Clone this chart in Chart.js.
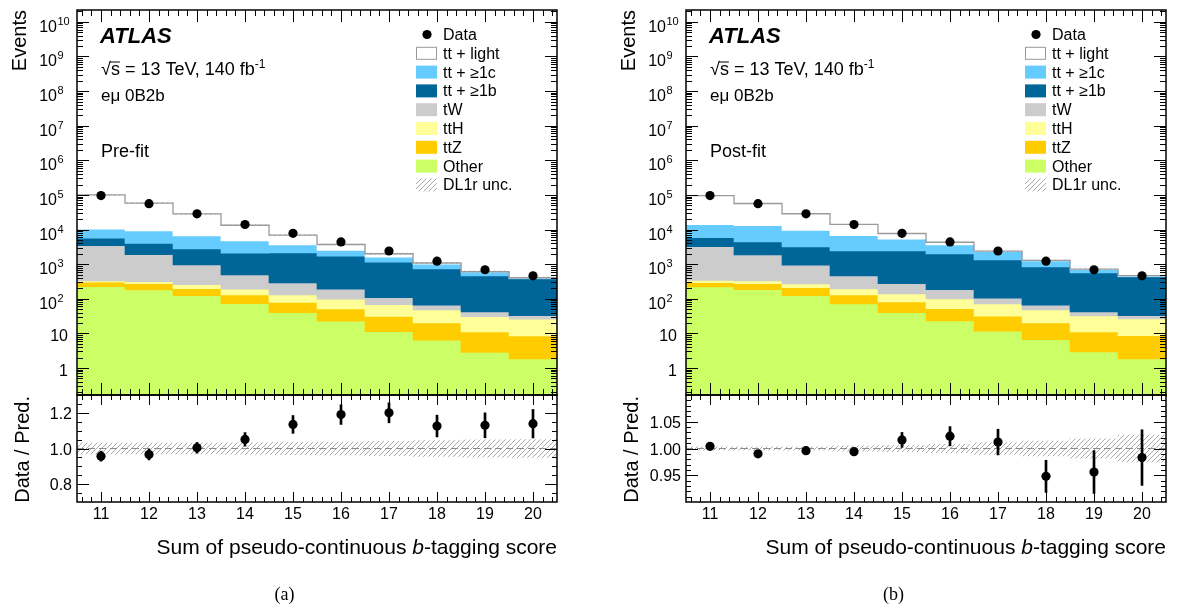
<!DOCTYPE html>
<html>
<head>
<meta charset="utf-8">
<script src="https://cdn.jsdelivr.net/npm/chart.js@4.4.0/dist/chart.umd.min.js"></script>
<style>
  body { margin: 0; background: #fff; }
  #wrap { position: relative; width: 1178px; height: 613px; overflow: hidden; background: #fff; }
  canvas { position: absolute; }
</style>
</head>
<body>
<div id="wrap">
  <canvas id="topA" width="589" height="400" style="left:0;top:0"></canvas>
  <canvas id="topB" width="589" height="400" style="left:609px;top:0"></canvas>
  <canvas id="botA" width="589" height="223" style="left:0;top:390px"></canvas>
  <canvas id="botB" width="589" height="223" style="left:609px;top:390px"></canvas>
</div>
<script>
// bins of the summed pseudo-continuous b-tagging score
const X_TICKS = [11, 12, 13, 14, 15, 16, 17, 18, 19, 20];
const BIN_EDGES = [10.5, 11.5, 12.5, 13.5, 14.5, 15.5, 16.5, 17.5, 18.5, 19.5, 20.5];
const LOG_TICKS = [1, 10, 1e2, 1e3, 1e4, 1e5, 1e6, 1e7, 1e8, 1e9, 1e10];
const RATIO_TICKS_PRE = [0.8, 1.0, 1.2];
const RATIO_TICKS_POST = [0.95, 1.00, 1.05];

const Y_MIN = 0.166;
const Y_MAX = 2.2e10;

const dataEvents = [96000, 56000, 28500, 14000, 7800, 4400, 2400, 1220, 690, 460];

// pre-fit yields per process
const preLight = [89800, 48900, 21900, 8600, 3300, 1200, 420, 80, 15, 9];
const preC = [4600, 5100, 3750, 2640, 1500, 800, 430, 275, 135, 23];
const preB = [2200, 2120, 1800, 1570, 1814, 1512, 1042, 660, 418, 340];
const preTW = [3074, 1569, 694, 302, 157, 90, 40, 17.5, 11, 6.9];
const preTTH = [26, 36, 61, 59, 50, 47, 37, 27.5, 19.5, 17.2];
const preTTZ = [76, 95, 72, 57, 39, 28.6, 19.8, 13.6, 8.2, 6.6];
const preOther = [224, 180, 123, 72, 40, 22.4, 11.2, 6.4, 2.84, 1.82];

// post-fit yields per process
const postLight = [81800, 43700, 19100, 7500, 2430, 700, 50, 40, 25, 15];
const postC = [7950, 8530, 6350, 4200, 2850, 1640, 1000, 420, 137, 25];
const postB = [2650, 2520, 2220, 1945, 2125, 1777, 1215, 765, 518, 395];
const postTW = [2860, 1524, 662, 263, 137, 83, 34, 17, 9.8, 6.5];
const postTTH = [47, 51, 59, 63, 57, 48, 39, 28, 20.7, 17.4];
const postTTZ = [74, 92, 86, 58, 41, 29, 20, 13.4, 8.1, 6.8];
const postOther = [219, 183, 123, 71, 40, 22.8, 11.5, 6.6, 2.9, 1.82];

// data / prediction
const preRatio = [0.957, 0.966, 1.004, 1.051, 1.135, 1.19, 1.20, 1.126, 1.13, 1.139];
const preRatioErr = [0.028, 0.03, 0.03, 0.038, 0.05, 0.055, 0.056, 0.061, 0.07, 0.08];
const preUnc = [0.03, 0.03, 0.03, 0.032, 0.034, 0.036, 0.04, 0.045, 0.048, 0.05];

const postRatio = [1.004, 0.990, 0.996, 0.994, 1.016, 1.023, 1.012, 0.948, 0.956, 0.983];
const postRatioErr = [0.002, 0.003, 0.003, 0.006, 0.014, 0.018, 0.024, 0.03, 0.04, 0.052];
const postUnc = [0.003, 0.003, 0.003, 0.005, 0.006, 0.008, 0.011, 0.014, 0.018, 0.025];

// stack, bottom to top
const STACK_LABELS = ['Other', 'ttZ', 'ttH', 'tW', 'tt + \u22651b', 'tt + \u22651c', 'tt + light'];
const STACK_COLORS = ['#ccff66', '#ffcc00', '#ffff99', '#cccccc', '#006699', '#66ccff', '#ffffff'];

const FONT = "'Liberation Sans', Arial, Helvetica, sans-serif";
const SERIF = "'Liberation Serif', 'Times New Roman', serif";

function makeHatch() {
    const c = document.createElement('canvas');
    c.width = c.height = 5;
    const g = c.getContext('2d');
    g.strokeStyle = '#a8a8a8';
    g.lineWidth = 1;
    g.beginPath();
    g.moveTo(0, 5); g.lineTo(5, 0);
    g.moveTo(-1, 1); g.lineTo(1, -1);
    g.moveTo(4, 6); g.lineTo(6, 4);
    g.stroke();
    return g.createPattern(c, 'repeat');
}
const HATCH = makeHatch();

const crisp = v => Math.round(v) + 0.5;

// ATLAS-style frame: inward ticks on all sides, labels, texts, legend
const atlasFrame = {
    id: 'atlasFrame',
    afterDraw(chart, args, o) {
        const { ctx, chartArea: a } = chart;
        const xs = chart.scales.x, ys = chart.scales.y;
        ctx.save();
        ctx.strokeStyle = '#000';
        ctx.lineWidth = 1;
        ctx.beginPath();
        for (let k = 53; k <= 102; k++) {
            const px = crisp(xs.getPixelForValue(k / 5));
            const len = k % 5 === 0 ? o.xMaj : o.xMin;
            ctx.moveTo(px, a.bottom); ctx.lineTo(px, a.bottom - len);
            ctx.moveTo(px, a.top); ctx.lineTo(px, a.top + len);
        }
        const yTick = (v, len) => {
            const py = crisp(ys.getPixelForValue(v));
            if (py < a.top || py > a.bottom) return;
            ctx.moveTo(a.left, py); ctx.lineTo(a.left + len, py);
            ctx.moveTo(a.right, py); ctx.lineTo(a.right - len, py);
        };
        o.yMajor.forEach(v => yTick(v, o.yMaj));
        o.yMinor.forEach(v => yTick(v, o.yMin));
        ctx.stroke();

        ctx.lineWidth = 1.5;
        ctx.strokeRect(a.left, a.top, a.right - a.left, a.bottom - a.top);

        ctx.fillStyle = '#000';
        // y tick labels
        o.yMajor.forEach(v => {
            const py = ys.getPixelForValue(v);
            const lab = o.yLabel(v);
            ctx.textAlign = 'right';
            ctx.font = '16px ' + FONT;
            if (lab.sup) {
                ctx.fillText(lab.text, o.supX, py + 10);
                ctx.textAlign = 'left';
                ctx.font = '11px ' + FONT;
                ctx.fillText(lab.sup, o.supX + 0.5, py + 3);
            } else {
                ctx.fillText(lab.text, o.labX, py + lab.dy);
            }
        });
        // x tick labels
        if (o.xLabels) {
            ctx.font = '16px ' + FONT;
            ctx.textAlign = 'center';
            X_TICKS.forEach(v => ctx.fillText(String(v), xs.getPixelForValue(v), o.xLabelY));
        }
        // free texts
        (o.texts || []).forEach(t => {
            ctx.save();
            ctx.font = t.font;
            ctx.textAlign = t.align || 'left';
            ctx.translate(t.x, t.y);
            if (t.rot) ctx.rotate(t.rot);
            if (t.parts) {
                let w = 0;
                t.parts.forEach(p => { ctx.font = p.font; w += ctx.measureText(p.s).width; });
                let cx = t.align === 'right' ? -w : 0;
                ctx.textAlign = 'left';
                t.parts.forEach(p => {
                    ctx.font = p.font;
                    ctx.fillText(p.s, cx, p.dy || 0);
                    if (p.over) {
                        ctx.lineWidth = 1;
                        ctx.beginPath();
                        ctx.moveTo(cx - 1, p.over); ctx.lineTo(cx + ctx.measureText(p.s).width, p.over);
                        ctx.stroke();
                    }
                    cx += ctx.measureText(p.s).width;
                });
            } else {
                ctx.fillText(t.s, 0, 0);
            }
            ctx.restore();
        });
        // legend
        if (o.legend) {
            const L = o.legend;
            L.items.forEach((it, i) => {
                const yc = L.y0 + i * L.dy;
                if (it.kind === 'marker') {
                    ctx.beginPath();
                    ctx.arc(L.x + 11, yc, 4.6, 0, Math.PI * 2);
                    ctx.fillStyle = '#000';
                    ctx.fill();
                } else if (it.kind === 'hatch') {
                    ctx.fillStyle = HATCH;
                    ctx.fillRect(L.x, yc - 6.5, 21, 13);
                } else {
                    ctx.fillStyle = it.color;
                    ctx.fillRect(L.x, yc - 6.5, 21, 13);
                    if (it.kind === 'outline') {
                        ctx.strokeStyle = '#999';
                        ctx.lineWidth = 1;
                        ctx.strokeRect(L.x + 0.5, yc - 6, 20, 12);
                    }
                }
                ctx.fillStyle = '#000';
                ctx.font = '16px ' + FONT;
                ctx.textAlign = 'left';
                ctx.fillText(it.label, L.x + 27, yc + 5.5);
            });
        }
        ctx.restore();
    }
};

function logMinors() {
    const out = [];
    for (let n = -1; n <= 10; n++) {
        for (let k = 2; k <= 9; k++) {
            const v = k * Math.pow(10, n);
            if (v > Y_MIN && v < Y_MAX) out.push(v);
        }
    }
    return out;
}

function stepMinors(lo, hi, step) {
    const out = [];
    const n = Math.round((hi - lo) / step);
    for (let i = 0; i <= n; i++) out.push(lo + i * step);
    return out;
}

const xScale = {
    type: 'linear', display: false, min: 10.5, max: 20.5, offset: false,
    afterBuildTicks: s => { s.ticks = X_TICKS.map(v => ({ value: v })); }
};

function upperChart(id, parts, unc, tag) {
    let acc = X_TICKS.map(() => 0);
    const bars = parts.map((p, k) => {
        const lo = acc.map(v => Math.max(v, Y_MIN));
        acc = acc.map((v, i) => v + p[i]);
        return {
            type: 'bar',
            label: STACK_LABELS[k],
            data: X_TICKS.map((x, i) => ({ x, y: [lo[i], acc[i]] })),
            backgroundColor: STACK_COLORS[k],
            borderWidth: 0,
            order: 20 - k
        };
    });
    const total = acc;
    const datasets = [
        {
            type: 'line', label: 'Data',
            data: X_TICKS.map((x, i) => ({ x, y: dataEvents[i] })),
            showLine: false, pointRadius: 4.6, pointBackgroundColor: '#000',
            pointBorderWidth: 0, borderColor: '#000', order: 0
        },
        {
            type: 'line', label: 'total',
            data: BIN_EDGES.map((x, i) => ({ x, y: total[Math.min(i, total.length - 1)] })),
            stepped: true, borderColor: '#9a9a9a', borderWidth: 1.3, pointRadius: 0, order: 1
        },
        {
            type: 'bar', label: 'DL1r unc.',
            data: X_TICKS.map((x, i) => ({ x, y: [total[i] * (1 - unc[i]), total[i] * (1 + unc[i])] })),
            backgroundColor: HATCH, borderWidth: 0, order: 2
        },
        ...bars
    ];
    return new Chart(document.getElementById(id), {
        type: 'bar',
        data: { datasets },
        options: {
            responsive: false, animation: false, devicePixelRatio: 1,
            layout: { padding: { left: 77, right: 32, top: 10, bottom: 5 } },
            datasets: { bar: { grouped: false, barPercentage: 1, categoryPercentage: 1 } },
            scales: {
                x: xScale,
                y: { type: 'logarithmic', display: false, min: Y_MIN, max: Y_MAX }
            },
            plugins: {
                legend: { display: false },
                tooltip: { enabled: false },
                atlasFrame: {
                    xMaj: 12, xMin: 6, yMaj: 12, yMin: 6,
                    yMajor: LOG_TICKS, yMinor: logMinors(),
                    supX: 57, labX: 68,
                    yLabel: v => {
                        const n = Math.round(Math.log10(v));
                        return n >= 2 ? { text: '10', sup: String(n) } : { text: String(v), dy: 8 };
                    },
                    texts: [
                        { s: 'ATLAS', x: 100, y: 43, font: 'italic bold 22px ' + FONT },
                        { x: 101, y: 75, parts: [
                            { s: '\u221A', font: '18px ' + FONT },
                            { s: 's', font: '18px ' + FONT, over: -13 },
                            { s: ' = 13 TeV, 140 fb', font: '18px ' + FONT },
                            { s: '-1', font: '12px ' + FONT, dy: -7 }
                        ] },
                        { s: 'e\u03BC 0B2b', x: 101, y: 100.5, font: '17px ' + FONT },
                        { s: tag, x: 101, y: 157, font: '18px ' + FONT },
                        { s: 'Events', x: 26, y: 10, rot: -Math.PI / 2, align: 'right', font: '20px ' + FONT }
                    ],
                    legend: {
                        x: 416, y0: 34.5, dy: 18.8,
                        items: [
                            { label: 'Data', kind: 'marker' },
                            { label: STACK_LABELS[6], kind: 'outline', color: STACK_COLORS[6] },
                            { label: STACK_LABELS[5], color: STACK_COLORS[5] },
                            { label: STACK_LABELS[4], color: STACK_COLORS[4] },
                            { label: STACK_LABELS[3], color: STACK_COLORS[3] },
                            { label: STACK_LABELS[2], color: STACK_COLORS[2] },
                            { label: STACK_LABELS[1], color: STACK_COLORS[1] },
                            { label: STACK_LABELS[0], color: STACK_COLORS[0] },
                            { label: 'DL1r unc.', kind: 'hatch' }
                        ]
                    }
                }
            }
        },
        plugins: [atlasFrame]
    });
}

function lowerChart(id, ratio, err, unc, yMin, yMax, ticks, minorStep, digits, caption) {
    const datasets = [
        {
            type: 'line', label: 'Data / Pred.',
            data: X_TICKS.map((x, i) => ({ x, y: ratio[i] })),
            showLine: false, pointRadius: 4.6, pointBackgroundColor: '#000',
            pointBorderWidth: 0, borderColor: '#000', order: 0
        },
        {
            type: 'bar', label: 'stat',
            data: X_TICKS.map((x, i) => ({ x, y: [ratio[i] - err[i], ratio[i] + err[i]] })),
            backgroundColor: '#000', borderWidth: 0, barThickness: 2, order: 1
        },
        {
            type: 'line', label: 'unity',
            data: [{ x: BIN_EDGES[0], y: 1 }, { x: BIN_EDGES[BIN_EDGES.length - 1], y: 1 }],
            borderColor: '#8c8c8c', borderWidth: 1.2, borderDash: [7, 4], pointRadius: 0, order: 2
        },
        {
            type: 'bar', label: 'DL1r unc.',
            data: X_TICKS.map((x, i) => ({ x, y: [1 - unc[i], 1 + unc[i]] })),
            backgroundColor: HATCH, borderWidth: 0, order: 3
        }
    ];
    return new Chart(document.getElementById(id), {
        type: 'bar',
        data: { datasets },
        options: {
            responsive: false, animation: false, devicePixelRatio: 1,
            layout: { padding: { left: 77, right: 32, top: 5, bottom: 111 } },
            datasets: { bar: { grouped: false, barPercentage: 1, categoryPercentage: 1 } },
            scales: {
                x: xScale,
                y: { type: 'linear', display: false, min: yMin, max: yMax }
            },
            plugins: {
                legend: { display: false },
                tooltip: { enabled: false },
                atlasFrame: {
                    xMaj: 10, xMin: 5, yMaj: 12, yMin: 5,
                    yMajor: ticks, yMinor: stepMinors(yMin, yMax, minorStep),
                    labX: 72,
                    yLabel: v => ({ text: v.toFixed(digits), dy: 6 }),
                    xLabels: true, xLabelY: 129,
                    texts: [
                        { x: 557, y: 164, align: 'right', parts: [
                            { s: 'Sum of pseudo-continuous ', font: '21px ' + FONT },
                            { s: 'b', font: 'italic 21px ' + FONT },
                            { s: '-tagging score', font: '21px ' + FONT }
                        ] },
                        { s: 'Data / Pred.', x: 29, y: 6, rot: -Math.PI / 2, align: 'right', font: '20px ' + FONT },
                        { s: caption, x: 284.5, y: 210, align: 'center', font: '18px ' + SERIF }
                    ]
                }
            }
        },
        plugins: [atlasFrame]
    });
}

upperChart('topA', [preOther, preTTZ, preTTH, preTW, preB, preC, preLight], preUnc, 'Pre-fit');
upperChart('topB', [postOther, postTTZ, postTTH, postTW, postB, postC, postLight], postUnc, 'Post-fit');
lowerChart('botA', preRatio, preRatioErr, preUnc, 0.7, 1.3, RATIO_TICKS_PRE, 0.05, 1, '(a)');
lowerChart('botB', postRatio, postRatioErr, postUnc, 0.9, 1.1, RATIO_TICKS_POST, 0.01, 2, '(b)');
</script>
</body>
</html>
